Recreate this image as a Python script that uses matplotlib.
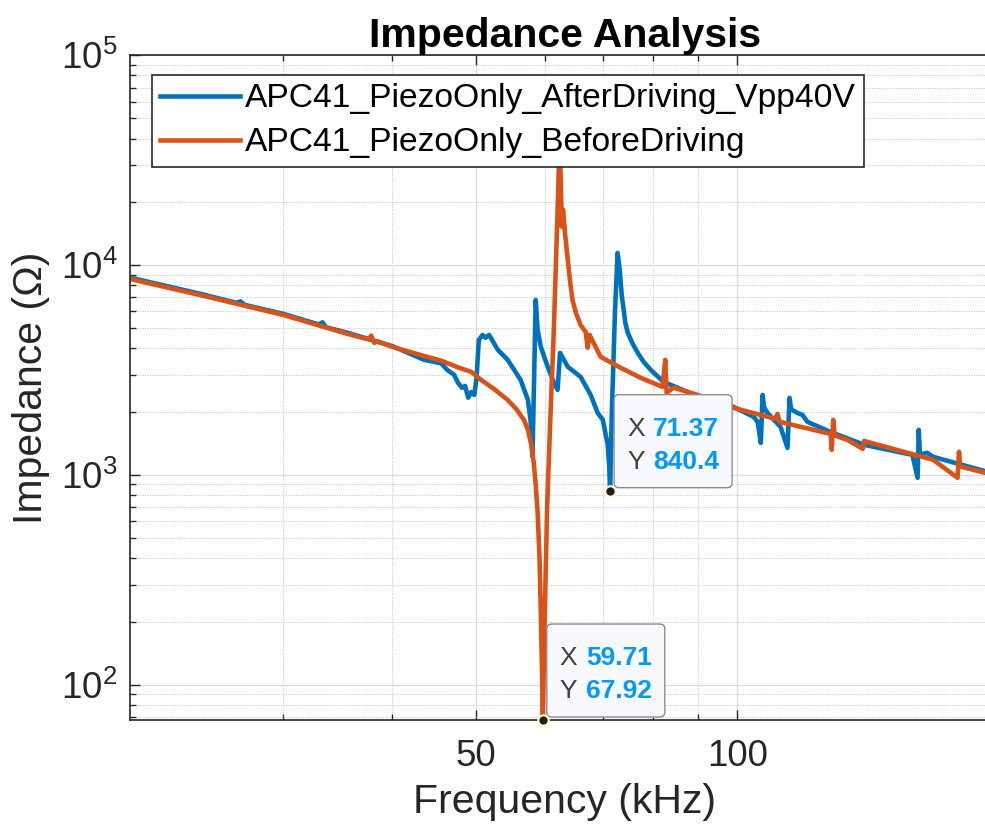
import numpy as np
import matplotlib
matplotlib.use('Agg')
import matplotlib.pyplot as plt
import matplotlib.transforms as mtransforms
from matplotlib.patches import FancyBboxPatch
from matplotlib.ticker import NullFormatter, FixedLocator

plt.rcParams['font.family'] = ['Liberation Sans', 'DejaVu Sans']

# Impedance sweeps, frequency in kHz, impedance in ohm
freq_after = [20.0, 24.2, 26.5, 26.8, 27.1, 30.0, 33.0, 33.3, 33.6, 35.6, 40.1,
              43.6, 45.6, 46.4, 47.2, 47.7, 48.2, 48.6, 49.0, 49.4, 49.8, 50.1,
              50.4, 50.9, 51.3, 51.8, 53.0, 54.4, 56.3, 57.4, 57.8, 58.1, 58.6,
              58.9, 59.4, 60.0, 60.5, 61.5, 62.1, 62.5, 63.8, 66.0, 67.8, 69.05,
              70.0, 70.9, 71.2, 71.37, 71.7, 72.3, 72.8, 73.2, 73.6, 74.3, 74.8,
              75.8, 76.8, 78.0, 79.5, 82.2, 87.6, 90.0, 98.9, 104.4, 105.5,
              106.4, 106.9, 107.3, 108.3, 112.1, 114.2, 114.8, 115.3, 117.2,
              118.8, 120.4, 127.9, 140.0, 159.0, 161.2, 161.7, 162.2, 165.3,
              168.0, 192.9, 200.0]
z_after = [8700, 7250, 6600, 6700, 6450, 5850, 5200, 5330, 5050, 4750, 4100,
           3530, 3400, 3150, 3000, 2740, 2600, 2650, 2330, 2480, 2400, 2900,
           4390, 4640, 4500, 4640, 3940, 3530, 2834, 2275, 1828, 1218, 6810,
           4900, 4070, 3600, 3270, 2743, 2541, 3810, 3270, 2930, 2400, 1973,
           1828, 1400, 1100, 840.4, 2000, 6000, 11400, 9500, 7200, 5300, 4740,
           4200, 3810, 3450, 3160, 2773, 2485, 2350, 2110, 1888, 1788,
           1420, 2403, 2100, 1973, 1693, 1345, 2327, 2050, 1973,
           1930, 1788, 1602, 1389, 1245, 968, 1637, 1250, 1273,
           1218, 1040, 1000]

freq_before = [20.0, 24.2, 30.0, 35.6, 37.6, 37.9, 38.2, 38.5, 40.1, 43.6, 45.6,
               47.7, 49.4, 50.7, 52.5, 54.4, 55.7, 56.8, 57.4, 57.9, 58.3, 58.6,
               58.9, 59.2, 59.4, 59.6, 59.71, 60.0, 60.4, 60.9, 61.5, 62.1, 62.45,
               62.8, 63.0, 63.4, 63.8, 64.2, 64.6, 65.2, 66.0, 66.9, 67.25, 67.6,
               69.6, 73.4, 77.4, 82.0, 82.6, 82.9, 84.4, 90.0, 98.9, 110.5, 111.2,
               111.8, 128.0, 128.4, 128.9, 129.4, 133.8, 139.4, 139.9, 168.0,
               179.2, 179.9, 180.4, 192.9, 200.0]
z_before = [8570, 7150, 5780, 4690, 4420, 4600, 4250, 4330, 4070, 3680, 3500,
            3250, 3093, 2834, 2560, 2275, 2050, 1828, 1637, 1400, 1140, 900,
            659, 400, 220, 110, 67.92, 200, 700, 1800, 5070, 18300, 40000,
            15200, 18300, 13500, 10570, 8300, 6810, 5900, 5170, 4790, 4030, 4640,
            3650, 3235, 2897, 2624, 3530, 2457, 2600, 2403, 2086, 1850, 1950,
            1790, 1566, 1316, 1828, 1540, 1468, 1330, 1450, 1179,
            968, 1288, 1095, 1022, 990]

tips = [(71.37, 840.4), (59.71, 67.92)]

blue = '#0072BD'
orange = '#D95319'

fig = plt.figure(figsize=(9.85, 8.32), dpi=100)
ax = fig.add_axes([0.1320, 0.1346, 0.8822, 0.7993])

ax.plot(freq_after, z_after, color=blue, lw=3.3,
        label='APC41_PiezoOnly_AfterDriving_Vpp40V')
ax.plot(freq_before, z_before, color=orange, lw=3.3,
        label='APC41_PiezoOnly_BeforeDriving')

ax.set_xscale('log')
ax.set_yscale('log')
ax.set_xlim(20, 200)
ax.set_ylim(67.92, 1e5)

ax.xaxis.set_major_locator(FixedLocator([50, 100]))
ax.set_xticklabels(['50', '100'])
ax.xaxis.set_minor_locator(FixedLocator([30, 40, 60, 70, 80, 90]))
ax.xaxis.set_minor_formatter(NullFormatter())
ax.yaxis.set_minor_formatter(NullFormatter())

ax.grid(which='major', color='#DADADA', lw=0.9, ls='-')
ax.grid(which='minor', color='#C2C2C2', lw=0.7, ls=(0, (1, 1.5)))
ax.set_axisbelow(True)

ax.tick_params(which='both', direction='in', top=True, right=True,
               colors='#262626', labelsize=26.5, width=1.0)
ax.tick_params(which='major', length=7)
ax.tick_params(which='minor', length=4)
ax.tick_params(axis='x', pad=14)
ax.tick_params(axis='y', pad=9)
for sp in ax.spines.values():
    sp.set_color('#262626')
    sp.set_linewidth(1.2)

ax.set_title('Impedance Analysis', fontsize=29.5, fontweight='bold', pad=1)
ax.set_xlabel('Frequency (kHz)', fontsize=29.5, color='#262626', labelpad=6)
ax.set_ylabel('Impedance (Ω)', fontsize=29.5, color='#262626', labelpad=8)

leg = ax.legend(loc='upper left', bbox_to_anchor=(0.0253, 0.970),
                borderaxespad=0, fontsize=24.2, fancybox=False,
                framealpha=1, edgecolor='#262626', handlelength=2.37,
                handletextpad=0.15, borderpad=0.25, labelspacing=0.39)
leg.get_frame().set_linewidth(1.2)


def datatip(ax, x, y):
    # pixel offsets measured from the data point
    trans = mtransforms.Affine2D() + mtransforms.ScaledTranslation(x, y, ax.transData)
    box = FancyBboxPatch((4, 3), 118, 93, boxstyle='round,pad=0,rounding_size=5',
                         fc='#F8F9FC', ec='#8C8C8C', lw=1.0, transform=trans,
                         clip_on=False, zorder=5)
    ax.add_patch(box)
    for lab, val, dy in (('X', f'{x:.2f}', 55), ('Y', f'{y:.4g}', 22)):
        ax.text(17, dy, lab, transform=trans, fontsize=19, color='#404040',
                va='baseline', zorder=6)
        ax.text(43, dy, val, transform=trans, fontsize=19, color='#0099FF',
                fontweight='bold', va='baseline', zorder=6)
    ax.plot([x], [y], 'o', ms=7.5, mfc='#1E1E1E', mec='#FFFFD0', mew=1.5,
            clip_on=False, zorder=7)


for tx, ty in tips:
    datatip(ax, tx, ty)

fig.savefig('out.png', dpi=100)
